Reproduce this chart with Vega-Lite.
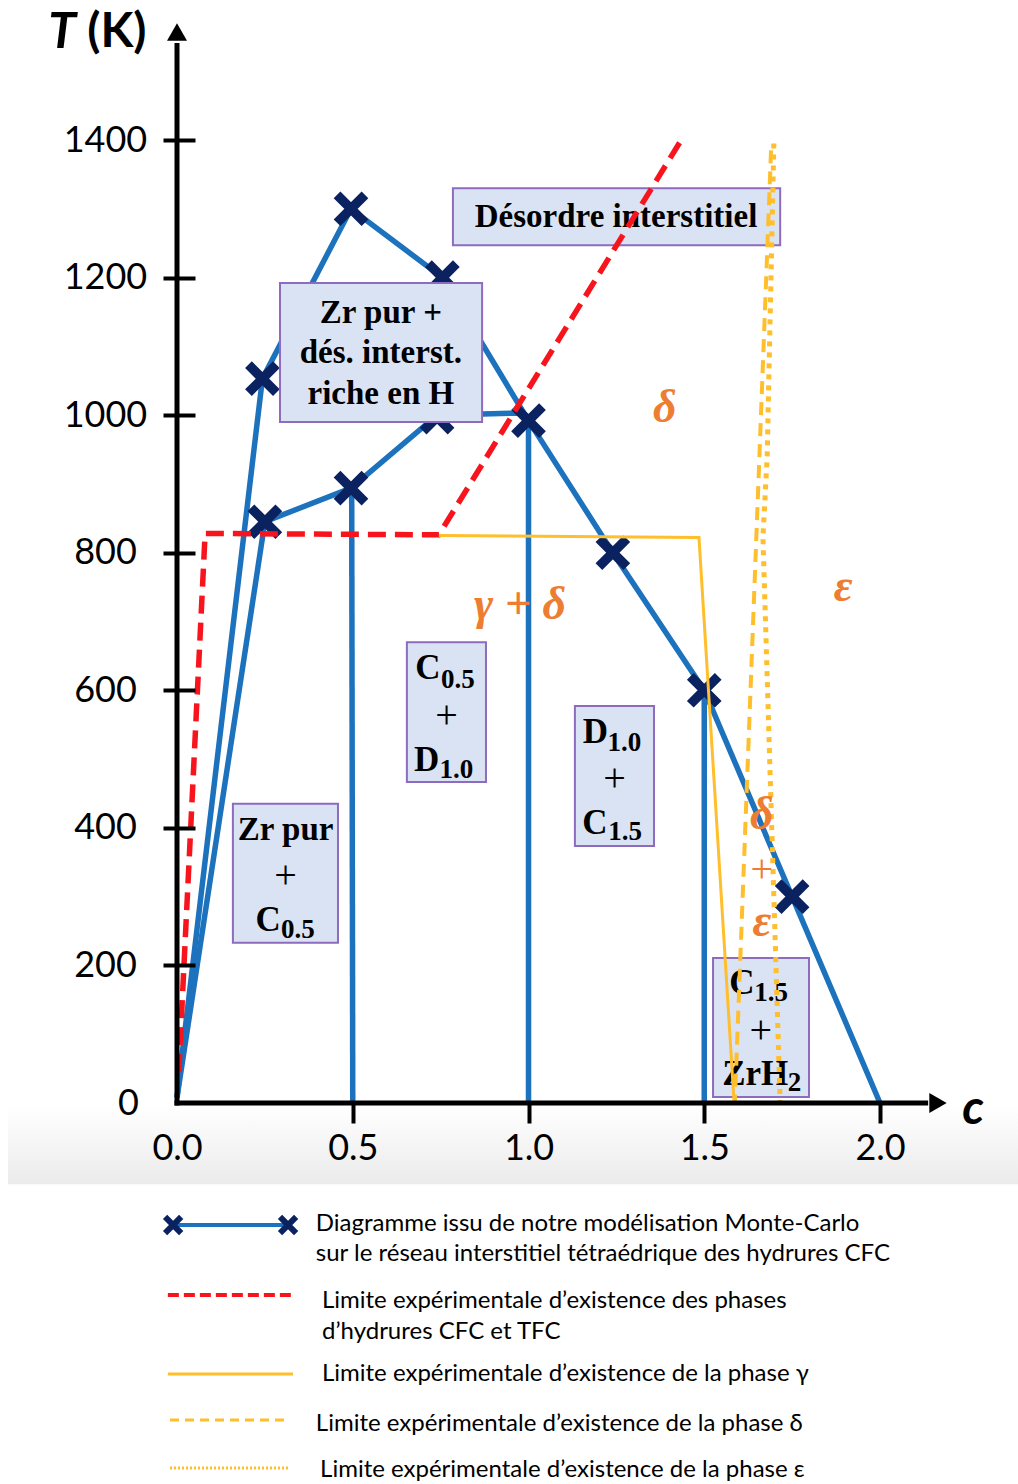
{
  "$schema": "https://vega.github.io/schema/vega-lite/v6.json",
  "width": 703,
  "height": 963,
  "autosize": {"type": "none"},
  "padding": {"left": 177, "top": 140, "right": 138, "bottom": 381},
  "background": "white",
  "config": {"view": {"stroke": null}},
  "datasets": {
    "band": [{"x": -0.481, "x2": 2.393, "T": -3, "T2": -118}],
    "blue": [
      {"id": "o", "ord": 1, "x": 0.0, "T": 8},
      {"id": "o", "ord": 2, "x": 0.243, "T": 1053},
      {"id": "o", "ord": 3, "x": 0.495, "T": 1300},
      {"id": "o", "ord": 4, "x": 0.755, "T": 1200},
      {"id": "o", "ord": 5, "x": 1.0, "T": 992},
      {"id": "o", "ord": 6, "x": 1.24, "T": 800},
      {"id": "o", "ord": 7, "x": 1.5, "T": 600},
      {"id": "o", "ord": 8, "x": 1.75, "T": 300},
      {"id": "o", "ord": 9, "x": 2.0, "T": 0},
      {"id": "i", "ord": 1, "x": 0.0, "T": 8},
      {"id": "i", "ord": 2, "x": 0.25, "T": 845},
      {"id": "i", "ord": 3, "x": 0.495, "T": 894},
      {"id": "i", "ord": 4, "x": 0.74, "T": 1000},
      {"id": "i", "ord": 5, "x": 0.975, "T": 1003},
      {"id": "i", "ord": 6, "x": 1.0, "T": 992},
      {"id": "v1", "ord": 1, "x": 0.497, "T": 894},
      {"id": "v1", "ord": 2, "x": 0.5, "T": 0},
      {"id": "v2", "ord": 1, "x": 1.0, "T": 992},
      {"id": "v2", "ord": 2, "x": 1.0, "T": 0},
      {"id": "v3", "ord": 1, "x": 1.5, "T": 600},
      {"id": "v3", "ord": 2, "x": 1.5, "T": 0}
    ],
    "crosses": [
      {"x": 0.25, "T": 845}, {"x": 0.495, "T": 894}, {"x": 0.74, "T": 997},
      {"x": 1.0, "T": 992}, {"x": 0.243, "T": 1053}, {"x": 0.495, "T": 1300},
      {"x": 0.755, "T": 1200}, {"x": 1.24, "T": 800}, {"x": 1.5, "T": 600},
      {"x": 1.75, "T": 300}
    ],
    "boxes": [
      {"x": 0.785, "x2": 1.716, "T": 1247, "T2": 1330},
      {"x": 0.293, "x2": 0.868, "T": 990, "T2": 1192},
      {"x": 0.159, "x2": 0.458, "T": 233, "T2": 435},
      {"x": 0.654, "x2": 0.879, "T": 466.6, "T2": 670},
      {"x": 1.132, "x2": 1.357, "T": 373.5, "T2": 577},
      {"x": 1.525, "x2": 1.798, "T": 8.7, "T2": 210.8}
    ],
    "boxtext": [
      {"x": 1.249, "T": 1288, "text": "Désordre interstitiel"},
      {"x": 0.58, "T": 1148, "text": "Zr pur +"},
      {"x": 0.58, "T": 1090, "text": "dés. interst."},
      {"x": 0.58, "T": 1030.5, "text": "riche en H"},
      {"x": 0.309, "T": 397, "text": "Zr pur"}
    ],
    "letters": [
      {"x": 0.259, "T": 266, "text": "C"},
      {"x": 0.714, "T": 632, "text": "C"},
      {"x": 0.71, "T": 498.5, "text": "D"},
      {"x": 1.19, "T": 539, "text": "D"},
      {"x": 1.189, "T": 407, "text": "C"},
      {"x": 1.607, "T": 174.4, "text": "C"},
      {"x": 1.645, "T": 42, "text": "ZrH"}
    ],
    "subs": [
      {"x": 0.344, "T": 251.5, "text": "0.5"},
      {"x": 0.799, "T": 615, "text": "0.5"},
      {"x": 0.795, "T": 484, "text": "1.0"},
      {"x": 1.273, "T": 523, "text": "1.0"},
      {"x": 1.275, "T": 394, "text": "1.5"},
      {"x": 1.69, "T": 160, "text": "1.5"},
      {"x": 1.757, "T": 29, "text": "2"}
    ],
    "plus": [
      {"x": 0.309, "T": 330, "text": "+"},
      {"x": 0.767, "T": 562.5, "text": "+"},
      {"x": 1.245, "T": 471, "text": "+"},
      {"x": 1.661, "T": 104.7, "text": "+"}
    ],
    "red": [
      {"ord": 1, "x": 0.005, "T": 45},
      {"ord": 2, "x": 0.08, "T": 828},
      {"ord": 3, "x": 0.745, "T": 826},
      {"ord": 4, "x": 1.431, "T": 1397}
    ],
    "ysolid": [
      {"ord": 1, "x": 0.745, "T": 825},
      {"ord": 2, "x": 1.485, "T": 822},
      {"ord": 3, "x": 1.585, "T": 0}
    ],
    "ydash": [
      {"ord": 1, "x": 1.69, "T": 1385},
      {"ord": 2, "x": 1.587, "T": 0}
    ],
    "ydot": [
      {"ord": 1, "x": 1.698, "T": 1395},
      {"ord": 2, "x": 1.679, "T": 939},
      {"ord": 3, "x": 1.667, "T": 823},
      {"ord": 4, "x": 1.687, "T": 484},
      {"ord": 5, "x": 1.716, "T": 0}
    ],
    "orange": [
      {"x": 1.388, "T": 1010, "text": "δ"},
      {"x": 0.976, "T": 724, "text": "γ + δ"},
      {"x": 1.895, "T": 750, "text": "ε"},
      {"x": 1.664, "T": 418.6, "text": "δ"},
      {"x": 1.664, "T": 263, "text": "ε"}
    ],
    "orangePlus": [
      {"x": 1.664, "T": 338.7, "text": "+"}
    ],
    "yaxisline": [{"x": 0, "T": -3.6, "T2": 1541}],
    "xaxisline": [{"x": -0.007, "x2": 2.137, "T": 0}],
    "uparrow": [{"x": 0, "T": 1557}],
    "rightarrow": [{"x": 2.165, "T": 0}],
    "titleT": [{"x": -0.327, "T": 1555, "text": "T"}],
    "titleK": [{"x": -0.171, "T": 1555, "text": "(K)"}],
    "titleC": [{"x": 2.265, "T": -10, "text": "c"}],
    "legBlue": [{"x": -0.011, "x2": 0.316, "T": -177.3}],
    "legCross": [{"x": -0.011, "T": -177.3}, {"x": 0.316, "T": -177.3}],
    "legRed": [{"x": -0.026, "x2": 0.33, "T": -279}],
    "legYSolid": [{"x": -0.026, "x2": 0.33, "T": -393.9}],
    "legYDash": [{"x": -0.02, "x2": 0.316, "T": -460.8}],
    "legYDot": [{"x": -0.02, "x2": 0.321, "T": -530.5}],
    "legText": [
      {"x": 0.395, "T": -175.9, "text": "Diagramme issu de notre modélisation Monte-Carlo"},
      {"x": 0.395, "T": -219.5, "text": "sur le réseau interstitiel tétraédrique des hydrures CFC"},
      {"x": 0.4125, "T": -287.8, "text": "Limite expérimentale d’existence des phases"},
      {"x": 0.4125, "T": -332.8, "text": "d’hydrures CFC et TFC"},
      {"x": 0.4125, "T": -393.9, "text": "Limite expérimentale d’existence de la phase γ"},
      {"x": 0.395, "T": -466.6, "text": "Limite expérimentale d’existence de la phase δ"},
      {"x": 0.407, "T": -533.4, "text": "Limite expérimentale d’existence de la phase ε"}
    ]
  },
  "encoding": {
    "x": {
      "field": "x", "type": "quantitative",
      "scale": {"domain": [0, 2], "nice": false, "zero": false},
      "axis": {
        "title": null, "values": [0, 0.5, 1, 1.5, 2], "format": ".1f", "zindex": 2,
        "domain": false, "grid": false, "ticks": true, "tickSize": 20, "tickWidth": 4,
        "tickColor": "black",
        "tickOpacity": {"condition": {"test": "datum.value == 0", "value": 0}, "value": 1},
        "labelFont": "Lato", "labelFontSize": 36, "labelColor": "black",
        "labelPadding": 8, "labelFlush": false, "labelOverlap": false, "labelBound": false
      }
    },
    "y": {
      "field": "T", "type": "quantitative",
      "scale": {"domain": [0, 1400], "nice": false, "zero": false},
      "axis": {
        "title": null, "values": [0, 200, 400, 600, 800, 1000, 1200, 1400], "format": "d", "zindex": 2,
        "orient": "left", "offset": -18, "domain": false, "grid": false,
        "tickSize": 32, "tickWidth": 4, "tickColor": "black",
        "tickOpacity": {"condition": {"test": "datum.value == 0", "value": 0}, "value": 1},
        "labelFont": "Lato", "labelFontSize": 36, "labelColor": "black",
        "labelAlign": "center", "labelBaseline": "middle",
        "labelPadding": {"condition": {"test": "datum.value == 0", "value": 35}, "value": 58},
        "labelOverlap": false, "labelBound": false, "labelFlush": false
      }
    }
  },
  "layer": [
    {
      "data": {"name": "band"},
      "mark": {"type": "rect", "color": {"gradient": "linear", "x1": 0, "y1": 0, "x2": 0, "y2": 1,
        "stops": [{"offset": 0, "color": "#ffffff"}, {"offset": 1, "color": "#ebebeb"}]}},
      "encoding": {"x2": {"field": "x2"}, "y2": {"field": "T2"}}
    },
    {
      "data": {"name": "blue"},
      "mark": {"type": "line", "color": "#1c72bd", "strokeWidth": 5.5},
      "encoding": {"detail": {"field": "id"}, "order": {"field": "ord"}}
    },
    {
      "data": {"name": "crosses"},
      "mark": {"type": "point", "shape": "M-1,-1L1,1M1,-1L-1,1", "filled": false, "color": "#0b2260",
        "strokeWidth": 9.5, "size": 780, "opacity": 1}
    },
    {
      "data": {"name": "boxes"},
      "mark": {"type": "rect", "fill": "#dae3f3", "stroke": "#8d6bbf", "strokeWidth": 2},
      "encoding": {"x2": {"field": "x2"}, "y2": {"field": "T2"}}
    },
    {
      "data": {"name": "boxtext"},
      "mark": {"type": "text", "font": "Liberation Serif", "fontWeight": "bold", "fontSize": 33,
        "align": "center", "baseline": "middle", "color": "black"},
      "encoding": {"text": {"field": "text"}}
    },
    {
      "data": {"name": "letters"},
      "mark": {"type": "text", "font": "Liberation Serif", "fontWeight": "bold", "fontSize": 35,
        "align": "center", "baseline": "middle", "color": "black"},
      "encoding": {"text": {"field": "text"}}
    },
    {
      "data": {"name": "subs"},
      "mark": {"type": "text", "font": "Liberation Serif", "fontWeight": "bold", "fontSize": 27,
        "align": "center", "baseline": "middle", "color": "black"},
      "encoding": {"text": {"field": "text"}}
    },
    {
      "data": {"name": "plus"},
      "mark": {"type": "text", "font": "Liberation Serif", "fontSize": 40,
        "align": "center", "baseline": "middle", "color": "black"},
      "encoding": {"text": {"field": "text"}}
    },
    {
      "data": {"name": "red"},
      "mark": {"type": "line", "color": "#f8141c", "strokeWidth": 5.5, "strokeDash": [18, 9]},
      "encoding": {"order": {"field": "ord"}}
    },
    {
      "data": {"name": "ysolid"},
      "mark": {"type": "line", "color": "#ffbe2b", "strokeWidth": 3},
      "encoding": {"order": {"field": "ord"}}
    },
    {
      "data": {"name": "ydash"},
      "mark": {"type": "line", "color": "#ffbe2b", "strokeWidth": 4, "strokeDash": [13, 8]},
      "encoding": {"order": {"field": "ord"}}
    },
    {
      "data": {"name": "ydot"},
      "mark": {"type": "line", "color": "#ffbe2b", "strokeWidth": 5, "strokeDash": [5, 6]},
      "encoding": {"order": {"field": "ord"}}
    },
    {
      "data": {"name": "orange"},
      "mark": {"type": "text", "font": "Liberation Serif", "fontWeight": "bold", "fontStyle": "italic",
        "fontSize": 46, "align": "center", "baseline": "middle", "color": "#ed7d31"},
      "encoding": {"text": {"field": "text"}}
    },
    {
      "data": {"name": "orangePlus"},
      "mark": {"type": "text", "font": "Liberation Serif", "fontSize": 40,
        "align": "center", "baseline": "middle", "color": "#ed7d31"},
      "encoding": {"text": {"field": "text"}}
    },
    {
      "data": {"name": "yaxisline"},
      "mark": {"type": "rule", "color": "black", "strokeWidth": 5},
      "encoding": {"y2": {"field": "T2"}}
    },
    {
      "data": {"name": "xaxisline"},
      "mark": {"type": "rule", "color": "black", "strokeWidth": 5},
      "encoding": {"x2": {"field": "x2"}}
    },
    {
      "data": {"name": "uparrow"},
      "mark": {"type": "point", "shape": "triangle-up", "filled": true, "color": "black", "size": 400, "opacity": 1}
    },
    {
      "data": {"name": "rightarrow"},
      "mark": {"type": "point", "shape": "triangle-right", "filled": true, "color": "black", "size": 400, "opacity": 1}
    },
    {
      "data": {"name": "titleT"},
      "mark": {"type": "text", "font": "Lato", "fontWeight": "bold", "fontStyle": "italic", "fontSize": 50,
        "align": "center", "baseline": "middle", "color": "black"},
      "encoding": {"text": {"field": "text"}}
    },
    {
      "data": {"name": "titleK"},
      "mark": {"type": "text", "font": "Lato", "fontWeight": "bold", "fontSize": 48,
        "align": "center", "baseline": "middle", "color": "black"},
      "encoding": {"text": {"field": "text"}}
    },
    {
      "data": {"name": "titleC"},
      "mark": {"type": "text", "font": "Lato", "fontWeight": "bold", "fontStyle": "italic", "fontSize": 48,
        "align": "center", "baseline": "middle", "color": "black"},
      "encoding": {"text": {"field": "text"}}
    },
    {
      "data": {"name": "legBlue"},
      "mark": {"type": "rule", "color": "#1c72bd", "strokeWidth": 4},
      "encoding": {"x2": {"field": "x2"}}
    },
    {
      "data": {"name": "legCross"},
      "mark": {"type": "point", "shape": "M-1,-1L1,1M1,-1L-1,1", "filled": false, "color": "#0b2260",
        "strokeWidth": 6, "size": 260, "opacity": 1}
    },
    {
      "data": {"name": "legRed"},
      "mark": {"type": "rule", "color": "#f8141c", "strokeWidth": 4, "strokeDash": [11, 5]},
      "encoding": {"x2": {"field": "x2"}}
    },
    {
      "data": {"name": "legYSolid"},
      "mark": {"type": "rule", "color": "#ffbe2b", "strokeWidth": 3},
      "encoding": {"x2": {"field": "x2"}}
    },
    {
      "data": {"name": "legYDash"},
      "mark": {"type": "rule", "color": "#ffbe2b", "strokeWidth": 3, "strokeDash": [9, 6]},
      "encoding": {"x2": {"field": "x2"}}
    },
    {
      "data": {"name": "legYDot"},
      "mark": {"type": "rule", "color": "#ffbe2b", "strokeWidth": 3, "strokeDash": [2, 2]},
      "encoding": {"x2": {"field": "x2"}}
    },
    {
      "data": {"name": "legText"},
      "mark": {"type": "text", "font": "Lato", "fontSize": 24, "align": "left", "baseline": "middle", "color": "black"},
      "encoding": {"text": {"field": "text"}}
    }
  ]
}
